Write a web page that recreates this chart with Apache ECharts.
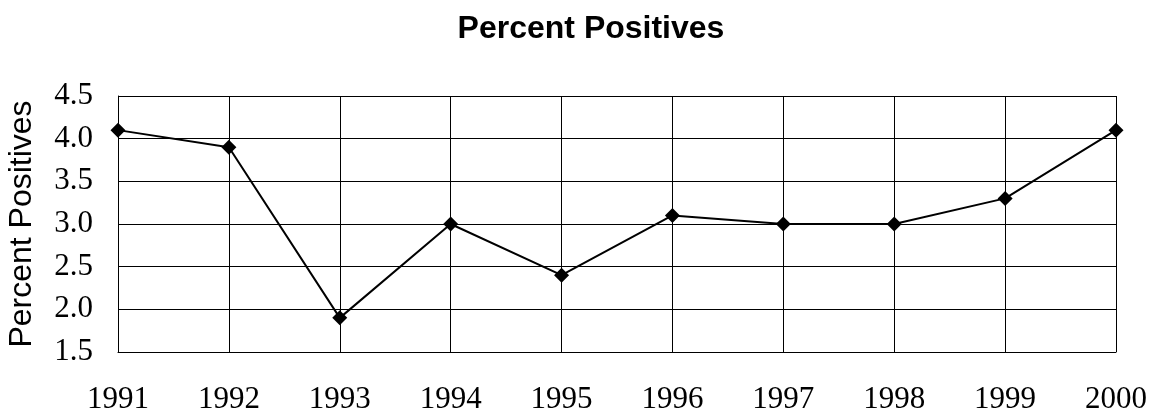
<!DOCTYPE html>
<html>
<head>
<meta charset="utf-8">
<script src="https://cdn.jsdelivr.net/npm/echarts@6/dist/echarts.min.js"></script>
<style>
html,body{margin:0;padding:0;background:#fff;}
#chart{width:1156px;height:415px;}
</style>
</head>
<body>
<div id="chart"></div>
<script>
var years = ['1991','1992','1993','1994','1995','1996','1997','1998','1999','2000'];
var percentPositives = [4.1, 3.9, 1.9, 3.0, 2.4, 3.1, 3.0, 3.0, 3.3, 4.1];
var yMin = 1.5, yMax = 4.5, yStep = 0.5;

var chart = echarts.init(document.getElementById('chart'));
chart.setOption({
  animation: false,
  backgroundColor: '#ffffff',
  title: {
    text: 'Percent Positives',
    left: 586, top: 8,
    textAlign: 'center',
    textStyle: {fontFamily: 'Liberation Sans', fontWeight: 'bold', fontSize: 32, color: '#000'}
  },
  grid: {left: 118, right: 40, top: 96, bottom: 63, outerBoundsMode: 'none', containLabel: false},
  xAxis: {
    type: 'category',
    data: years,
    boundaryGap: false,
    axisLine: {lineStyle: {color: '#000', width: 1}},
    axisTick: {show: false},
    axisLabel: {color: '#000', fontFamily: 'Liberation Serif', fontSize: 31, margin: 32},
    splitLine: {show: true, lineStyle: {color: '#000', width: 1}}
  },
  yAxis: {
    type: 'value',
    min: yMin, max: yMax, interval: yStep,
    name: 'Percent Positives',
    nameLocation: 'middle',
    nameGap: 80,
    nameTextStyle: {fontFamily: 'Liberation Sans', fontSize: 32, color: '#000'},
    axisLine: {show: true, lineStyle: {color: '#000', width: 1}},
    axisTick: {show: false},
    axisLabel: {color: '#000', fontFamily: 'Liberation Serif', fontSize: 31, margin: 25,
      formatter: function (v) { return v.toFixed(1); }},
    splitLine: {show: true, lineStyle: {color: '#000', width: 1}}
  },
  series: [{
    type: 'line',
    data: percentPositives,
    symbol: 'diamond',
    symbolSize: 15,
    lineStyle: {color: '#000', width: 2},
    itemStyle: {color: '#000'}
  }]
});
</script>
</body>
</html>
